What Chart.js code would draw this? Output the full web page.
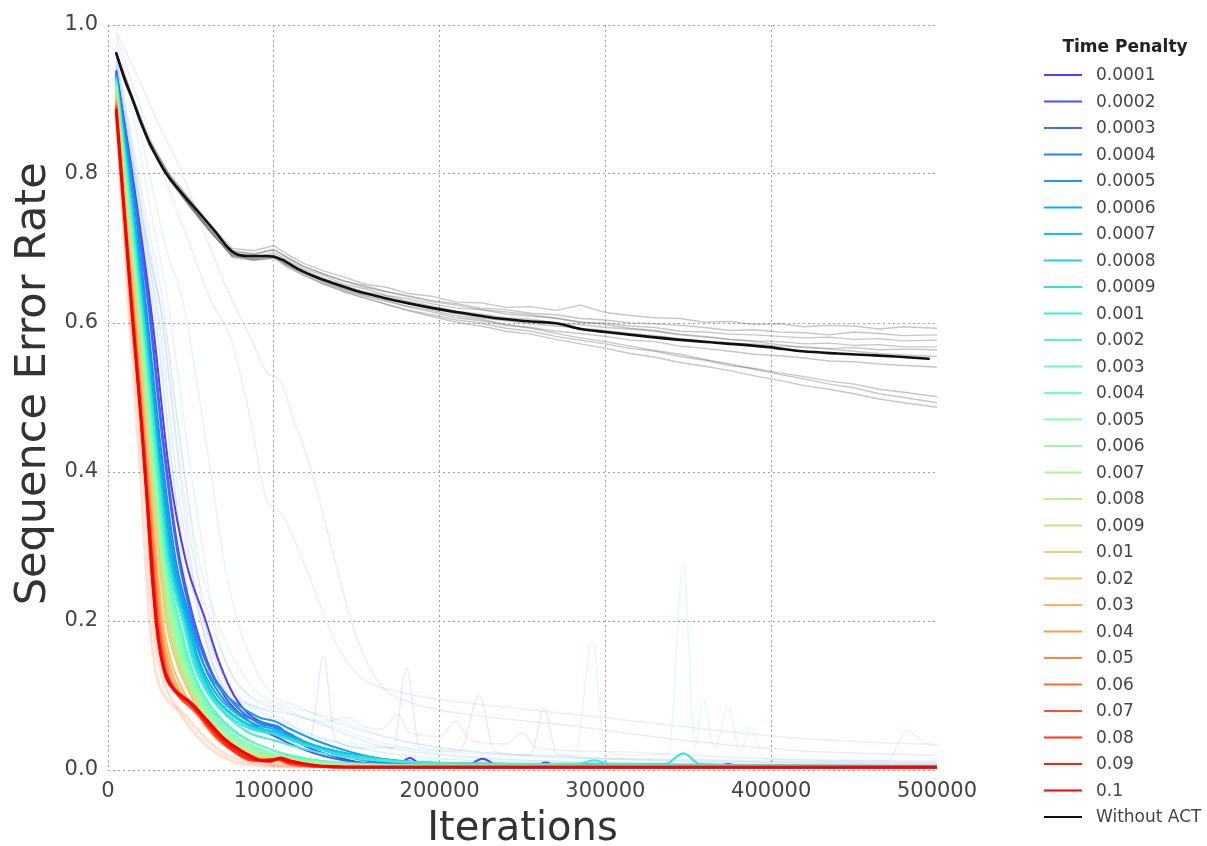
<!DOCTYPE html>
<html><head><meta charset="utf-8">
<script src="https://cdn.jsdelivr.net/npm/chart.js@4/dist/chart.umd.min.js"></script>
<style>html,body{margin:0;padding:0;background:#fff;overflow:hidden}</style>
</head><body>
<canvas id="c" width="1207" height="846"></canvas>
<script>
// ---------------- data ----------------
const legendTitle = 'Time Penalty';
const penaltyLabels = ['0.0001','0.0002','0.0003','0.0004','0.0005','0.0006','0.0007','0.0008','0.0009',
  '0.001','0.002','0.003','0.004','0.005','0.006','0.007','0.008','0.009',
  '0.01','0.02','0.03','0.04','0.05','0.06','0.07','0.08','0.09','0.1'];
const baselineLabel = 'Without ACT';
const xTicks = [0, 100000, 200000, 300000, 400000, 500000];
const yTicks = [0.0, 0.2, 0.4, 0.6, 0.8, 1.0];

const p0001 = [[5000,.938],[16000,.78],[27000,.6],[37000,.4],[47000,.28],[59000,.2],[67000,.145],[76000,.1],[85000,.075],[95000,.062],[103000,.058],[110000,.045],[120000,.031],[140000,.016],[160000,.007],[174000,.006],[182000,.016],[190000,.006],[215000,.005],[226000,.015],[236000,.005],[256000,.004],[264000,.01],[272000,.004],[365000,.004],[374000,.008],[382000,.004],[500000,.003]];
const p0002 = [[5000,.937],[15000,.79],[25000,.62],[33000,.45],[42000,.3],[52000,.2],[60000,.145],[70000,.1],[80000,.075],[92000,.055],[100000,.046],[110000,.035],[125000,.022],[145000,.012],[170000,.007],[220000,.005],[300000,.004],[500000,.003]];
const p0003 = [[5000,.935],[15000,.785],[25000,.61],[33000,.44],[42000,.29],[51000,.2],[60000,.14],[70000,.105],[80000,.08],[92000,.062],[100000,.058],[108000,.05],[120000,.035],[140000,.02],[160000,.011],[190000,.007],[250000,.005],[350000,.004],[500000,.003]];
const p0004 = [[5000,.933],[15000,.78],[24000,.6],[32000,.43],[41000,.28],[50000,.2],[58000,.14],[68000,.1],[78000,.078],[90000,.066],[100000,.06],[110000,.048],[125000,.032],[145000,.02],[170000,.011],[200000,.008],[260000,.006],[330000,.005],[500000,.004]];
const p0005 = [[5000,.932],[14000,.78],[23000,.6],[31000,.43],[40000,.28],[49000,.2],[57000,.145],[67000,.11],[80000,.085],[92000,.07],[100000,.066],[110000,.055],[125000,.04],[145000,.025],[165000,.015],[190000,.01],[230000,.008],[290000,.007],[340000,.006],[400000,.005],[500000,.004]];
const p0006 = [[5000,.93],[14000,.775],[23000,.6],[31000,.42],[39000,.28],[48000,.2],[56000,.14],[66000,.1],[78000,.075],[90000,.06],[100000,.055],[110000,.045],[125000,.033],[145000,.022],[170000,.013],[200000,.009],[260000,.008],[320000,.007],[400000,.005],[500000,.004]];
const p0007 = [[5000,.93],[14000,.77],[22000,.6],[30000,.42],[38000,.28],[47000,.2],[55000,.14],[64000,.1],[75000,.075],[88000,.058],[100000,.052],[112000,.042],[128000,.03],[150000,.02],[175000,.012],[210000,.009],[280000,.008],[400000,.006],[500000,.005]];
const p0008 = [[5000,.928],[13500,.77],[22000,.6],[30000,.42],[37000,.28],[46000,.2],[54000,.14],[63000,.1],[74000,.075],[86000,.058],[100000,.05],[112000,.04],[128000,.028],[150000,.017],[175000,.011],[210000,.008],[280000,.007],[400000,.006],[500000,.005]];
const p0009 = [[5000,.927],[13500,.765],[21500,.6],[29500,.42],[36500,.28],[45500,.2],[53000,.14],[62000,.1],[73000,.072],[85000,.056],[100000,.048],[115000,.036],[130000,.026],[150000,.018],[175000,.012],[210000,.009],[280000,.008],[336000,.008],[347000,.022],[357000,.008],[400000,.006],[500000,.005]];
const p001 = [[5000,.925],[13000,.765],[21000,.6],[29000,.42],[36000,.28],[45000,.2],[52000,.14],[61000,.1],[72000,.072],[85000,.05],[100000,.04],[115000,.03],[135000,.02],[160000,.013],[200000,.009],[283000,.008],[293000,.013],[303000,.008],[400000,.006],[500000,.005]];
const p002 = [[5000,.922],[13000,.76],[20500,.6],[28500,.42],[35000,.28],[43000,.2],[50000,.14],[58000,.1],[68000,.07],[80000,.047],[95000,.03],[110000,.02],[130000,.012],[160000,.008],[220000,.006],[350000,.005],[500000,.004]];
const p003 = [[5000,.92],[12500,.76],[20000,.6],[28000,.42],[34500,.28],[42000,.2],[49000,.14],[57000,.1],[67000,.068],[80000,.045],[95000,.03],[110000,.018],[130000,.011],[160000,.007],[220000,.006],[350000,.005],[500000,.004]];
const p004 = [[5000,.918],[12500,.755],[20000,.6],[27500,.42],[34000,.28],[41000,.2],[48000,.14],[56000,.1],[66000,.066],[78000,.043],[92000,.028],[105000,.018],[125000,.011],[155000,.007],[220000,.005],[500000,.004]];
const p005 = [[5000,.915],[12000,.755],[19500,.6],[27000,.42],[33500,.28],[40000,.2],[47000,.14],[55000,.1],[65000,.064],[77000,.042],[90000,.027],[103000,.018],[120000,.011],[150000,.007],[220000,.005],[500000,.004]];
const p006 = [[5000,.912],[12000,.75],[19000,.6],[26500,.42],[33000,.28],[39000,.2],[46000,.14],[54000,.1],[64000,.062],[76000,.04],[90000,.025],[102000,.017],[120000,.01],[150000,.006],[220000,.005],[500000,.004]];
const p007 = [[5000,.91],[12000,.75],[19000,.6],[26000,.42],[32500,.28],[38000,.2],[45000,.14],[53000,.1],[63000,.06],[75000,.038],[88000,.024],[100000,.018],[106000,.019],[115000,.011],[140000,.006],[220000,.005],[500000,.004]];
const p008 = [[5000,.908],[11500,.75],[18500,.6],[25500,.42],[32000,.28],[37000,.2],[44000,.14],[52000,.1],[62000,.058],[74000,.036],[87000,.022],[100000,.017],[106000,.018],[115000,.01],[140000,.006],[220000,.005],[500000,.004]];
const p009 = [[5000,.906],[11500,.745],[18000,.6],[25000,.42],[31500,.28],[36000,.2],[43000,.14],[51000,.1],[61000,.056],[73000,.034],[86000,.021],[100000,.016],[106000,.017],[115000,.01],[140000,.006],[220000,.005],[500000,.004]];
const p01 = [[5000,.904],[11000,.745],[18000,.6],[24500,.42],[31000,.28],[35000,.2],[42000,.14],[50000,.1],[60000,.055],[72000,.032],[85000,.02],[100000,.015],[106000,.016],[115000,.009],[140000,.005],[220000,.004],[500000,.004]];
const p02 = [[5000,.90],[11000,.74],[17000,.6],[24000,.42],[29500,.28],[33000,.2],[39000,.14],[47000,.1],[58000,.065],[70000,.035],[82000,.02],[95000,.012],[102000,.014],[110000,.009],[130000,.005],[200000,.004],[500000,.003]];
const p03 = [[5000,.898],[10500,.74],[16500,.6],[23500,.42],[29000,.28],[32000,.2],[38000,.135],[45000,.1],[56000,.07],[68000,.038],[80000,.021],[93000,.012],[101000,.014],[110000,.008],[130000,.005],[200000,.004],[500000,.003]];
const p04 = [[5000,.896],[10500,.74],[16000,.6],[23000,.42],[28500,.28],[31500,.2],[37000,.13],[44000,.1],[55000,.072],[67000,.04],[79000,.022],[92000,.012],[101000,.014],[110000,.008],[130000,.004],[200000,.003],[500000,.003]];
const p05 = [[5000,.894],[10500,.74],[16000,.6],[23000,.41],[28000,.27],[31000,.2],[36000,.13],[43000,.1],[54000,.075],[66000,.042],[78000,.023],[91000,.012],[101000,.014],[110000,.008],[130000,.004],[200000,.003],[500000,.003]];
const p06 = [[5000,.892],[10000,.745],[15500,.6],[22500,.41],[27500,.27],[30500,.2],[35500,.13],[42500,.1],[53000,.078],[65000,.045],[77000,.024],[90000,.012],[101000,.014],[110000,.008],[130000,.004],[200000,.003],[500000,.003]];
const p07 = [[5000,.89],[10000,.745],[15500,.6],[22500,.41],[27000,.27],[30000,.2],[35000,.13],[42000,.1],[52000,.08],[63000,.05],[75000,.026],[89000,.012],[101000,.014],[110000,.008],[130000,.004],[200000,.003],[500000,.003]];
const p08 = [[5000,.888],[10000,.742],[15000,.6],[22000,.41],[26500,.27],[29500,.2],[34500,.13],[41000,.105],[51000,.085],[62000,.055],[73000,.03],[87000,.013],[101000,.015],[110000,.009],[130000,.004],[200000,.003],[500000,.003]];
const p09 = [[5000,.887],[10000,.742],[15000,.6],[22000,.41],[26000,.27],[29000,.2],[34000,.13],[40000,.107],[50000,.088],[61000,.06],[72000,.035],[85000,.016],[95000,.012],[102000,.015],[110000,.01],[130000,.005],[200000,.003],[500000,.003]];
const p1 = [[5000,.885],[10000,.742],[15000,.6],[20000,.47],[25000,.32],[29000,.2],[32000,.152],[35000,.127],[40000,.108],[50000,.09],[60000,.066],[70000,.042],[80000,.026],[92000,.013],[98000,.012],[104000,.016],[110000,.012],[125000,.006],[150000,.004],[250000,.004],[500000,.004]];

const withoutACT = [[5000,.962],[10000,.927],[15000,.899],[20000,.868],[25000,.842],[30000,.82],[35000,.801],[45000,.773],[55000,.748],[65000,.722],[72000,.702],[77000,.693],[85000,.69],[95000,.69],[100000,.689],[105000,.685],[115000,.672],[125000,.662],[135000,.654],[150000,.643],[166000,.634],[180000,.627],[196000,.62],[215000,.613],[236000,.606],[255000,.602],[272000,.599],[285000,.592],[300000,.588],[320000,.583],[347000,.577],[370000,.573],[397000,.568],[419000,.562],[440000,.559],[458000,.557],[475000,.555],[495000,.552]];

// individual (faint) runs without ACT
const g1 = [[5000,.962],[15000,.9],[25000,.846],[37000,.8],[50000,.765],[62000,.73],[75000,.70],[88000,.697],[100000,.704],[108000,.692],[118000,.68],[130000,.67],[142000,.662],[155000,.652],[168000,.648],[180000,.64],[195000,.636],[210000,.628],[225000,.627],[240000,.621],[255000,.622],[270000,.617],[285000,.624],[300000,.614],[315000,.61],[330000,.607],[345000,.606],[360000,.601],[375000,.602],[390000,.598],[405000,.599],[420000,.595],[435000,.597],[450000,.596],[465000,.592],[480000,.595],[500000,.593]];
const g2 = [[5000,.96],[15000,.897],[25000,.84],[37000,.795],[50000,.758],[62000,.726],[75000,.697],[88000,.693],[100000,.699],[108000,.688],[118000,.676],[130000,.666],[142000,.656],[155000,.65],[168000,.642],[180000,.637],[195000,.63],[210000,.626],[225000,.62],[240000,.618],[255000,.613],[270000,.611],[285000,.606],[300000,.604],[315000,.6],[330000,.599],[345000,.597],[360000,.594],[375000,.59],[390000,.591],[405000,.588],[420000,.587],[435000,.584],[450000,.588],[465000,.586],[480000,.583],[500000,.584]];
const g3 = [[5000,.963],[15000,.902],[25000,.843],[37000,.797],[50000,.762],[62000,.728],[75000,.693],[88000,.688],[100000,.694],[108000,.685],[118000,.673],[130000,.664],[142000,.652],[155000,.646],[168000,.637],[180000,.633],[195000,.626],[210000,.62],[225000,.618],[240000,.612],[255000,.609],[270000,.607],[285000,.601],[300000,.6],[315000,.596],[330000,.594],[345000,.589],[360000,.588],[375000,.585],[390000,.584],[405000,.582],[420000,.58],[435000,.581],[450000,.578],[465000,.579],[480000,.576],[500000,.577]];
const g4 = [[5000,.96],[15000,.896],[25000,.838],[37000,.793],[50000,.755],[62000,.722],[75000,.69],[88000,.686],[100000,.691],[108000,.682],[118000,.671],[130000,.66],[142000,.65],[155000,.642],[168000,.636],[180000,.63],[195000,.623],[210000,.616],[225000,.612],[240000,.607],[255000,.605],[270000,.6],[285000,.598],[300000,.594],[315000,.592],[330000,.589],[345000,.584],[360000,.581],[375000,.578],[390000,.576],[405000,.575],[420000,.572],[435000,.573],[450000,.57],[465000,.571],[480000,.568],[500000,.568]];
const g5 = [[5000,.961],[15000,.9],[25000,.842],[37000,.796],[50000,.758],[62000,.724],[75000,.688],[88000,.684],[100000,.688],[108000,.679],[118000,.669],[130000,.658],[142000,.648],[155000,.64],[168000,.633],[180000,.627],[195000,.619],[210000,.613],[225000,.607],[240000,.603],[255000,.599],[270000,.596],[285000,.593],[300000,.59],[315000,.586],[330000,.583],[345000,.579],[360000,.576],[375000,.573],[390000,.572],[405000,.569],[420000,.568],[435000,.566],[450000,.567],[465000,.564],[480000,.565],[500000,.564]];
const g6 = [[5000,.962],[15000,.899],[25000,.84],[37000,.794],[50000,.756],[62000,.723],[75000,.692],[88000,.685],[100000,.689],[108000,.677],[118000,.667],[130000,.655],[142000,.645],[155000,.636],[168000,.629],[180000,.622],[195000,.615],[210000,.607],[225000,.603],[240000,.597],[255000,.594],[270000,.589],[285000,.586],[300000,.582],[315000,.577],[330000,.575],[345000,.569],[360000,.566],[375000,.562],[390000,.558],[405000,.556],[420000,.553],[435000,.549],[450000,.548],[465000,.545],[480000,.543],[500000,.541]];
const g7 = [[5000,.96],[15000,.897],[25000,.838],[37000,.792],[50000,.754],[62000,.721],[75000,.69],[88000,.684],[100000,.687],[108000,.675],[118000,.664],[130000,.652],[142000,.642],[155000,.633],[168000,.625],[180000,.618],[195000,.611],[210000,.604],[225000,.6],[240000,.593],[255000,.589],[270000,.582],[285000,.577],[300000,.572],[315000,.566],[330000,.562],[345000,.555],[360000,.55],[375000,.543],[390000,.539],[405000,.533],[420000,.528],[435000,.522],[450000,.518],[465000,.511],[480000,.507],[500000,.501]];
const g8 = [[5000,.962],[15000,.9],[25000,.84],[37000,.795],[50000,.757],[62000,.725],[75000,.694],[88000,.688],[100000,.691],[108000,.679],[118000,.668],[130000,.656],[142000,.646],[155000,.637],[168000,.63],[180000,.623],[195000,.617],[210000,.61],[225000,.605],[240000,.598],[255000,.593],[270000,.586],[285000,.58],[300000,.575],[315000,.569],[330000,.563],[345000,.558],[360000,.551],[375000,.545],[390000,.538],[405000,.531],[420000,.525],[435000,.518],[450000,.513],[465000,.505],[480000,.5],[500000,.493]];
const g9 = [[5000,.961],[15000,.898],[25000,.839],[37000,.793],[50000,.755],[62000,.722],[75000,.691],[88000,.686],[100000,.69],[108000,.677],[118000,.665],[130000,.653],[142000,.643],[155000,.634],[168000,.625],[180000,.617],[195000,.609],[210000,.601],[225000,.596],[240000,.589],[255000,.585],[270000,.578],[285000,.572],[300000,.566],[315000,.559],[330000,.554],[345000,.547],[360000,.542],[375000,.536],[390000,.529],[405000,.523],[420000,.516],[435000,.511],[450000,.505],[465000,.498],[480000,.493],[500000,.487]];
const g10 = [[5000,.963],[15000,.903],[25000,.845],[37000,.799],[50000,.762],[62000,.729],[75000,.696],[88000,.692],[100000,.698],[108000,.688],[118000,.676],[130000,.666],[142000,.657],[155000,.648],[168000,.642],[180000,.636],[195000,.629],[210000,.624],[225000,.618],[240000,.615],[255000,.611],[270000,.606],[285000,.601],[300000,.598],[315000,.593],[330000,.59],[345000,.585],[360000,.582],[375000,.578],[390000,.575],[405000,.571],[420000,.567],[435000,.565],[450000,.562],[465000,.559],[480000,.557],[500000,.555]];

// individual (faint) runs with ACT
const fA = [[5000,.99],[18000,.93],[32000,.86],[45000,.8],[60000,.71],[75000,.63],[86000,.58],[96000,.533],[104000,.522],[112000,.47],[122000,.407],[130000,.34],[138000,.272],[146000,.205],[155000,.15],[166000,.11],[186000,.088],[216000,.075],[277000,.06],[347000,.04],[417000,.026],[500000,.02]];
const fB = [[5000,.985],[18000,.9],[30000,.82],[40000,.76],[52000,.69],[62000,.63],[74000,.58],[86000,.47],[96000,.36],[104000,.345],[116000,.29],[130000,.21],[140000,.16],[152000,.125],[175000,.105],[200000,.095],[250000,.082],[300000,.07],[360000,.055],[420000,.042],[500000,.034]];
const fC = [[5000,.975],[15000,.9],[25000,.8],[35000,.7],[45000,.63],[55000,.5],[62000,.4],[70000,.28],[78000,.2],[88000,.14],[100000,.1],[115000,.085],[130000,.07],[150000,.055],[175000,.04],[200000,.03],[250000,.02],[300000,.015],[400000,.01],[500000,.008]];
const fD = [[5000,.97],[15000,.88],[25000,.76],[36000,.63],[44000,.5],[50000,.4],[57000,.3],[64000,.2],[74000,.13],[85000,.1],[100000,.088],[120000,.07],[140000,.055],[160000,.04],[190000,.025],[240000,.015],[300000,.01],[500000,.007]];
const fE = [[5000,.955],[15000,.83],[25000,.7],[31000,.63],[38000,.5],[43000,.4],[50000,.28],[56000,.2],[65000,.13],[75000,.1],[90000,.08],[110000,.06],[122000,.045],[130000,.152],[137000,.04],[155000,.03],[172000,.03],[180000,.137],[188000,.03],[212000,.025],[224000,.1],[233000,.025],[255000,.02],[263000,.083],[271000,.02],[320000,.015],[400000,.012],[500000,.01]];
const fF = [[5000,.95],[15000,.82],[25000,.68],[30000,.6],[37000,.45],[44000,.3],[52000,.2],[62000,.13],[75000,.09],[95000,.06],[120000,.045],[150000,.035],[200000,.025],[250000,.02],[282000,.02],[292000,.175],[300000,.025],[320000,.02],[338000,.022],[347000,.275],[354000,.03],[359000,.094],[366000,.03],[374000,.085],[381000,.025],[388000,.058],[395000,.015],[470000,.012],[482000,.054],[490000,.04],[500000,.032]];
const fG = [[5000,.96],[15000,.84],[25000,.72],[33000,.63],[40000,.5],[46000,.4],[52000,.3],[58000,.2],[66000,.14],[76000,.1],[90000,.085],[110000,.075],[130000,.065],[145000,.07],[152000,.06],[165000,.055],[175000,.075],[182000,.05],[200000,.045],[210000,.065],[218000,.04],[240000,.035],[250000,.05],[258000,.03],[300000,.025],[350000,.02],[400000,.015],[500000,.012]];
const fH = [[5000,.945],[15000,.8],[22000,.7],[29000,.6],[39000,.4],[47000,.28],[56000,.2],[64000,.14],[72000,.1],[90000,.07],[115000,.04],[150000,.02],[200000,.01],[300000,.007],[500000,.005]];
const fI = [[5000,.94],[15000,.81],[23000,.7],[31000,.6],[41000,.4],[49000,.28],[58000,.2],[67000,.14],[78000,.1],[100000,.075],[120000,.05],[150000,.03],[200000,.015],[300000,.009],[500000,.006]];
const fJ = [[5000,.95],[15000,.82],[24000,.7],[33000,.6],[44000,.4],[52000,.28],[62000,.2],[72000,.14],[85000,.1],[105000,.08],[130000,.06],[160000,.035],[200000,.02],[300000,.01],[500000,.007]];
const fK = [[5000,.945],[16000,.8],[26000,.68],[34000,.6],[46000,.4],[55000,.28],[66000,.2],[78000,.14],[92000,.1],[110000,.085],[135000,.07],[160000,.05],[200000,.03],[260000,.018],[350000,.012],[500000,.009]];
const fO1 = [[5000,.875],[13000,.6],[19500,.4],[25000,.2],[29000,.13],[34000,.1],[42000,.08],[52000,.05],[62000,.028],[75000,.012],[90000,.006],[120000,.004],[500000,.003]];
const fO2 = [[5000,.892],[17000,.6],[25000,.42],[31000,.25],[35000,.16],[40000,.12],[50000,.085],[62000,.05],[75000,.025],[90000,.012],[110000,.006],[150000,.004],[500000,.003]];
const fO3 = [[5000,.885],[14000,.6],[21500,.4],[27000,.2],[31000,.14],[37000,.1],[48000,.07],[60000,.04],[72000,.02],[88000,.009],[110000,.005],[500000,.003]];
const fO4 = [[5000,.89],[15500,.6],[23500,.4],[29500,.22],[33000,.16],[38000,.125],[48000,.095],[60000,.07],[72000,.045],[84000,.025],[98000,.012],[120000,.006],[500000,.003]];

const penaltySeries = [p0001,p0002,p0003,p0004,p0005,p0006,p0007,p0008,p0009,p001,p002,p003,p004,p005,p006,p007,p008,p009,p01,p02,p03,p04,p05,p06,p07,p08,p09,p1];
const grayRuns = [g1,g2,g3,g4,g5,g6,g7,g8,g9,g10];
const blueRuns = [fA,fB,fC,fD,fE,fF,fG,fH,fI,fJ,fK];
const orangeRuns = [fO1,fO2,fO3,fO4];

// ---------------- styles ----------------
const penaltyColors = ['#5c38fd','#4a52fc','#396cf9','#2784f6','#169bf2','#04b0ed','#0ec3e7','#1fd3e1','#31e2da',
  '#42edd3','#54f6cb','#65fcc2','#77ffb9','#89ffaf','#9afba5','#acf69a','#bded8f','#cfe183',
  '#e0d377','#f2c26b','#ffaf5f','#ff9a52','#ff8344','#ff6b37','#ff5129','#ff371c','#ff1c0e','#ff0000'];
const blueRunColors = ['rgba(120,120,235,0.15)','rgba(120,140,235,0.15)','rgba(100,170,235,0.15)','rgba(100,180,235,0.15)',
  'rgba(130,130,230,0.16)','rgba(90,210,230,0.15)','rgba(140,140,230,0.15)','rgba(80,160,225,0.2)',
  'rgba(90,170,230,0.2)','rgba(100,180,230,0.18)','rgba(110,190,235,0.16)'];

const toXY = arr => arr.map(p => ({x: p[0], y: p[1]}));
const datasets = [];
blueRuns.forEach((r, i) => datasets.push({data: toXY(r), borderColor: blueRunColors[i], borderWidth: 1.5, order: 60, cubicInterpolationMode: 'monotone'}));
orangeRuns.forEach(r => datasets.push({data: toXY(r), borderColor: 'rgba(255,120,50,0.22)', borderWidth: 3, order: 55, cubicInterpolationMode: 'monotone'}));
grayRuns.forEach(r => datasets.push({data: toXY(r), borderColor: 'rgba(90,90,90,0.34)', borderWidth: 1.4, order: 50, tension: 0}));
penaltySeries.forEach((s, i) => datasets.push({label: penaltyLabels[i], data: toXY(s), borderColor: penaltyColors[i],
  borderWidth: i === 27 ? 3.2 : 2, order: 30 - i, cubicInterpolationMode: 'monotone', legendIdx: i}));
datasets.push({label: baselineLabel, data: toXY(withoutACT), borderColor: '#111', borderWidth: 2.6, order: 0, cubicInterpolationMode: 'monotone', legendIdx: 28});

const legendPlugin = {
  id: 'sideLegend',
  afterDraw(chart) {
    const ctx = chart.ctx;
    const items = chart.data.datasets.filter(d => d.legendIdx !== undefined).sort((a, b) => a.legendIdx - b.legendIdx);
    ctx.save();
    ctx.textBaseline = 'middle';
    ctx.font = 'bold 17px "DejaVu Sans"';
    ctx.fillStyle = '#222';
    ctx.textAlign = 'center';
    ctx.fillText(legendTitle, 1125, 48);
    ctx.font = '17px "DejaVu Sans"';
    ctx.textAlign = 'left';
    items.forEach((d, i) => {
      const y = 75 + i * 26.5;
      ctx.strokeStyle = d.borderColor;
      ctx.lineWidth = 2.2;
      ctx.beginPath(); ctx.moveTo(1044, y); ctx.lineTo(1082, y); ctx.stroke();
      ctx.fillStyle = '#444';
      ctx.fillText(d.label, 1096, y + 1);
    });
    ctx.restore();
  }
};

Chart.defaults.font.family = '"DejaVu Sans", sans-serif';
new Chart(document.getElementById('c'), {
  type: 'line',
  data: {datasets},
  plugins: [legendPlugin],
  options: {
    responsive: false,
    animation: false,
    devicePixelRatio: 1,
    layout: {padding: {left: 0, right: 270, top: 25, bottom: 0}},
    elements: {point: {radius: 0}, line: {borderCapStyle: 'round', borderJoinStyle: 'round'}},
    plugins: {legend: {display: false}, tooltip: {enabled: false}},
    scales: {
      x: {
        type: 'linear', min: 0, max: 500000,
        afterBuildTicks: s => { s.ticks = xTicks.map(v => ({value: v})); },
        afterFit: s => { s.height = 76; },
        ticks: {callback: v => String(v), font: {size: 21}, color: '#444', padding: 9, maxRotation: 0},
        grid: {color: c => (c.tick && c.tick.value === 500000) ? 'rgba(0,0,0,0)' : '#a0a0a0', lineWidth: 1, drawTicks: false},
        border: {display: false, dash: [2, 3]},
        title: {display: true, text: 'Iterations', font: {size: 40, lineHeight: 1.2}, color: '#333', padding: {top: 0, bottom: -8}}
      },
      y: {
        min: 0, max: 1,
        afterBuildTicks: s => { s.ticks = yTicks.map(v => ({value: v})); },
        afterFit: s => { s.width = 108; },
        ticks: {callback: v => Number(v).toFixed(1), font: {size: 21}, color: '#444', padding: 10},
        grid: {color: '#a0a0a0', lineWidth: 1, drawTicks: false},
        border: {display: false, dash: [2, 3]},
        title: {display: true, text: '  Sequence Error Rate', font: {size: 43, lineHeight: 1.2}, color: '#333', padding: {top: 8, bottom: 0}}
      }
    }
  }
});
</script>
</body></html>
